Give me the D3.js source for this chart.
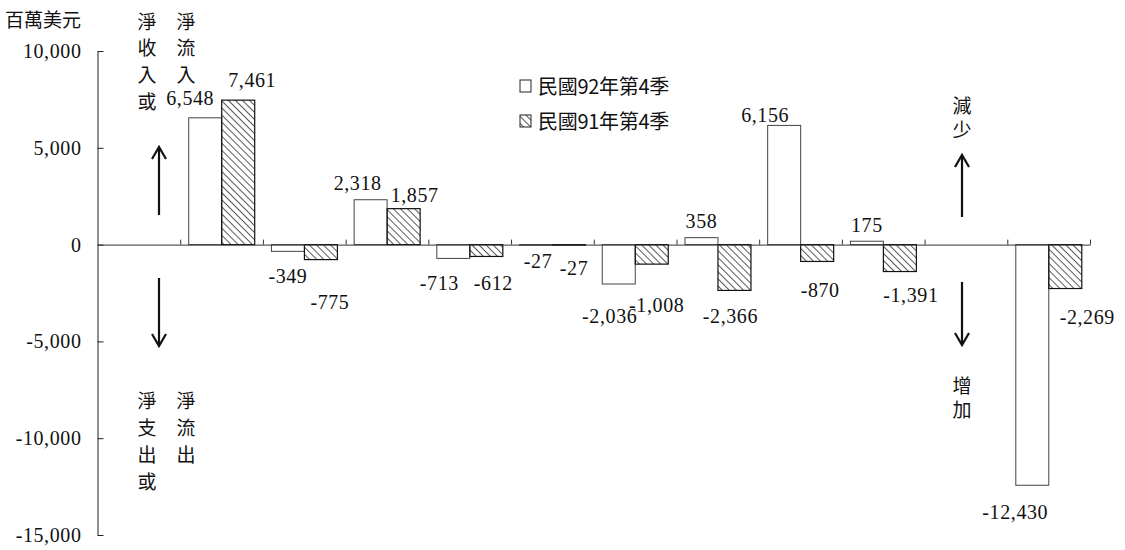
<!DOCTYPE html>
<html>
<head>
<meta charset="utf-8">
<script src="https://cdn.jsdelivr.net/npm/d3@7"></script>
<style>
  html, body { margin: 0; padding: 0; background: #fff; }
  svg { display: block; }
  .num { font-family: "Liberation Serif", "DejaVu Serif", serif; font-size: 20px; fill: #111; letter-spacing: 0.6px; }
  .cjk { font-family: "Noto Sans CJK TC", "Noto Sans CJK SC", sans-serif; font-size: 19px; fill: #111; }
  .leg { font-size: 20px; letter-spacing: -0.3px; }
</style>
</head>
<body>
<div id="chart"></div>
<script>
// 資料：12 個位置，第 1、11 格為空白（放箭頭說明）
const categories = ["b1", "g1", "g2", "g3", "g4", "g5", "g6", "g7", "g8", "g9", "b2", "g10"];
const series = ["民國92年第4季", "民國91年第4季"];
const q92 = [null, 6548, -349, 2318, -713, -27, -2036, 358, 6156, 175, null, -12430];
const q91 = [null, 7461, -775, 1857, -612, -27, -1008, -2366, -870, -1391, null, -2269];
const yTicks = [10000, 5000, 0, -5000, -10000, -15000];

// 數值標籤微調（相對於柱中心 / 柱端）
const nudge92 = [null, [-15, -13], [0, 32], [-13, -10], [-14, 32], [2, 23], [-9, 39], [0, -10], [-19, -3], [0, -9], null, [-17, 34]];
const nudge91 = [null, [14, -13], [9, 49], [11, -7], [7, 34], [5, 30], [5, 48], [-4, 33], [3, 36], [11, 30], null, [22, 35]];

const width = 1125, height = 550;
const x0 = 97.5, x1 = 1090;

const fmt = d3.formatLocale({ decimal: ".", thousands: ",", grouping: [3], currency: ["", ""], minus: "-" }).format(",");

const svg = d3.select("#chart").append("svg")
  .attr("width", width).attr("height", height);

// 斜線圖樣
const defs = svg.append("defs");
defs.append("pattern")
  .attr("id", "hatch")
  .attr("patternUnits", "userSpaceOnUse")
  .attr("width", 5).attr("height", 5)
  .attr("patternTransform", "rotate(-45)")
  .append("line")
  .attr("x1", 0).attr("y1", 0).attr("x2", 0).attr("y2", 5)
  .attr("stroke", "#111").attr("stroke-width", 1.4);

const y = d3.scaleLinear().domain([-15000, 10000]).range([535, 51]);
const x = d3.scaleBand().domain(categories).range([x0, x1]).padding(0);
const xb = d3.scaleLinear().domain([0, categories.length]).range([x0, x1]);
const inner = d3.scaleBand().domain(series).range([8.5, 74.5]).padding(0);

// Y 軸
const yAxis = svg.append("g")
  .attr("transform", `translate(${x0},0)`)
  .attr("font-family", null).attr("font-size", null)
  .call(d3.axisLeft(y).tickValues(yTicks).tickFormat(fmt).tickSizeInner(-6).tickSizeOuter(0).tickPadding(16));
yAxis.attr("font-family", null).attr("font-size", null);
yAxis.selectAll("text").attr("class", "num").attr("fill", null);
yAxis.selectAll("line, path").attr("stroke", "#222");

// 柱
const rows = categories.map((c, i) => ({ c, i, vals: [q92[i], q91[i]] }));
const bars = [];
rows.forEach(r => r.vals.forEach((v, s) => { if (v != null) bars.push({ c: r.c, i: r.i, s, v }); }));

svg.append("g").selectAll("rect")
  .data(bars)
  .join("rect")
  .attr("x", d => x(d.c) + inner(series[d.s]))
  .attr("width", inner.bandwidth())
  .attr("y", d => Math.min(y(d.v), y(0)))
  .attr("height", d => Math.max(0.6, Math.abs(y(d.v) - y(0))))
  .attr("fill", d => d.s === 0 ? "#fff" : "url(#hatch)")
  .attr("stroke", d => d.s === 0 ? "#444" : "#111")
  .attr("stroke-width", d => d.s === 0 ? 1 : 1.2);

// X 軸（零線，刻度朝上）
const xAxis = svg.append("g")
  .attr("transform", `translate(0,${y(0)})`)
  .call(d3.axisBottom(xb).tickValues(d3.range(1, categories.length + 1)).tickSizeInner(-5).tickSizeOuter(0).tickFormat(""));
xAxis.selectAll("line, path").attr("stroke", "#333");

// 數值標籤
svg.append("g").selectAll("text")
  .data(bars)
  .join("text")
  .attr("class", "num")
  .attr("text-anchor", "middle")
  .attr("x", d => x(d.c) + inner(series[d.s]) + inner.bandwidth() / 2 + (d.s === 0 ? nudge92 : nudge91)[d.i][0])
  .attr("y", d => y(d.v) + (d.s === 0 ? nudge92 : nudge91)[d.i][1])
  .text(d => fmt(d.v));

// 單位
svg.append("text").attr("class", "cjk").attr("x", 5).attr("y", 27).text("百萬美元");

// 直書說明
function vtext(str, cx, cy0, step) {
  svg.append("g").selectAll("text")
    .data(Array.from(str))
    .join("text")
    .attr("class", "cjk")
    .attr("text-anchor", "middle")
    .attr("dominant-baseline", "central")
    .attr("x", cx)
    .attr("y", (d, k) => cy0 + k * step)
    .text(d => d);
}
vtext("淨收入或", 147, 20, 26.7);
vtext("淨流入", 186, 20, 26.7);
vtext("淨支出或", 147, 399, 27.3);
vtext("淨流出", 186, 399, 27.3);
vtext("減少", 962, 104, 24.5);
vtext("增加", 962, 384, 24.5);

// 箭頭
function arrow(cx, yFrom, yTip) {
  const dir = yTip < yFrom ? 1 : -1;
  const g = svg.append("g").attr("stroke", "#111").attr("stroke-width", 2.2).attr("fill", "none");
  g.append("line").attr("x1", cx).attr("x2", cx).attr("y1", yFrom).attr("y2", yTip + dir);
  g.append("path").attr("d", `M${cx - 7},${yTip + dir * 12} L${cx},${yTip} L${cx + 7},${yTip + dir * 12}`);
}
arrow(159, 215, 147);
arrow(159, 278, 346);
arrow(962, 217, 155);
arrow(962, 282, 345);

// 圖例
const legend = svg.append("g");
series.forEach((name, s) => {
  const ly = 80 + s * 35;
  legend.append("rect")
    .attr("x", 520).attr("y", ly).attr("width", 11).attr("height", 12)
    .attr("fill", s === 0 ? "#fff" : "url(#hatch)")
    .attr("stroke", "#222").attr("stroke-width", 1);
  legend.append("text").attr("class", "cjk leg").attr("x", 538).attr("y", ly + 14).text(name);
});
</script>
</body>
</html>
